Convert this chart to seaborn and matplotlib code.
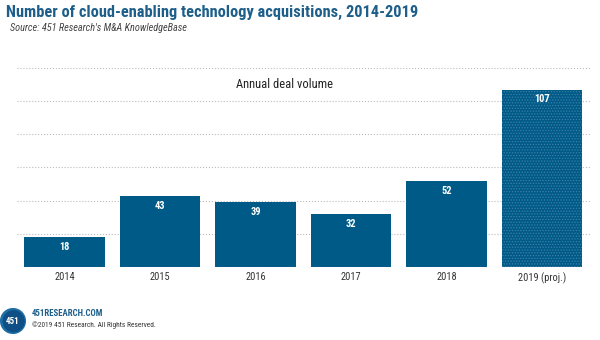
import matplotlib
matplotlib.use("Agg")
import matplotlib.pyplot as plt
import seaborn as sns
import pandas as pd
from matplotlib import font_manager
from matplotlib.patches import Circle

categories = ["2014", "2015", "2016", "2017", "2018", "2019 (proj.)"]
values = [18, 43, 39, 32, 52, 107]
y_ticks = [0, 20, 40, 60, 80, 100, 120]

sns.set_theme(style="white")
names = {f.name for f in font_manager.fontManager.ttflist}
narrow = "Liberation Sans"
for cand in ["Roboto Condensed", "Liberation Sans Narrow", "Open Sans Condensed", "DejaVu Sans Condensed"]:
    if cand in names:
        narrow = cand
        break
plt.rcParams['font.family'] = [narrow, "DejaVu Sans"]
plt.rcParams['hatch.linewidth'] = 0.6

BLUE = "#005a87"
TITLE_BLUE = "#1d5f8a"

df = pd.DataFrame({"year": categories, "deals": values})

fig = plt.figure(figsize=(6, 3.4), dpi=100)
ax = fig.add_axes([0.028, 0.215, 0.955, 0.585])
sns.barplot(data=df, x="year", y="deals", color=BLUE, saturation=1, width=0.84, ax=ax)

bars = ax.patches
for i, p in enumerate(bars):
    p.set_facecolor(BLUE)
    p.set_edgecolor(BLUE)
    p.set_linewidth(0)
    if i == len(bars) - 1:
        p.set_hatch("......")
        p.set_edgecolor("#3d80a8")
    h = p.get_height()
    ax.text(p.get_x() + p.get_width() / 2, h - 6, f"{values[i]}", ha="center", va="center",
            color="white", fontsize=7.5, fontweight="bold")

ax.set_ylim(0, 120)
ax.set_xlim(-0.5, 5.5)
ax.set_yticks(y_ticks)
ax.set_yticklabels([])
ax.tick_params(axis="y", length=0)
ax.tick_params(axis="x", length=0, labelsize=7.5, colors="#333333", pad=4)
ax.grid(axis="y", linestyle=":", color="#bbbbbb", linewidth=0.8)
ax.set_axisbelow(True)
ax.set_xlabel("")
ax.set_ylabel("")
for s in ax.spines.values():
    s.set_visible(False)
ax.axhline(0, color="#bbbbbb", linestyle=":", linewidth=0.8)

ax.text(0.468, 0.915, "Annual deal volume", transform=ax.transAxes, ha="center", va="center",
        fontsize=9, color="#222222")

title = fig.text(0.01, 0.963, "Number of cloud-enabling technology acquisitions, 2014-2019",
                 fontsize=14, fontweight="bold", color=TITLE_BLUE, va="center", ha="left")
source = fig.text(0.016, 0.918, "Source: 451 Research's M&A KnowledgeBase", fontsize=6,
                  style="italic", color="#444444", va="center", ha="left")
site = fig.text(32 / 600, 1 - 314 / 340, "451RESEARCH.COM", fontsize=6, fontweight="bold",
                color=TITLE_BLUE, va="center", ha="left")
copy = fig.text(32 / 600, 1 - 325 / 340, "©2019 451 Research. All Rights Reserved.", fontsize=5.5,
                color="#333333", va="center", ha="left")

# fit text widths to the reference layout
renderer = fig.canvas.get_renderer()
for t, target, allow_grow in [(title, 412, False), (source, 177, True), (site, 72, True), (copy, 123, True)]:
    w = t.get_window_extent(renderer).width
    if w > target or allow_grow:
        t.set_fontsize(t.get_fontsize() * target / w)

logo_ax = fig.add_axes([0.0, 1 - 334 / 340, 26 / 600, 26 / 340])
logo_ax.set_xlim(-1, 1)
logo_ax.set_ylim(-1, 1)
logo_ax.set_aspect("equal")
logo_ax.axis("off")
logo_ax.add_patch(Circle((0, 0), 0.95, color="#1e6ea6"))
logo_ax.add_patch(Circle((0.05, -0.02), 0.8, color="#0e4f86"))
logo_ax.text(0, -0.02, "451", ha="center", va="center", color="white", fontsize=6.5, fontweight="bold")

fig.savefig("out.png", dpi=100)
